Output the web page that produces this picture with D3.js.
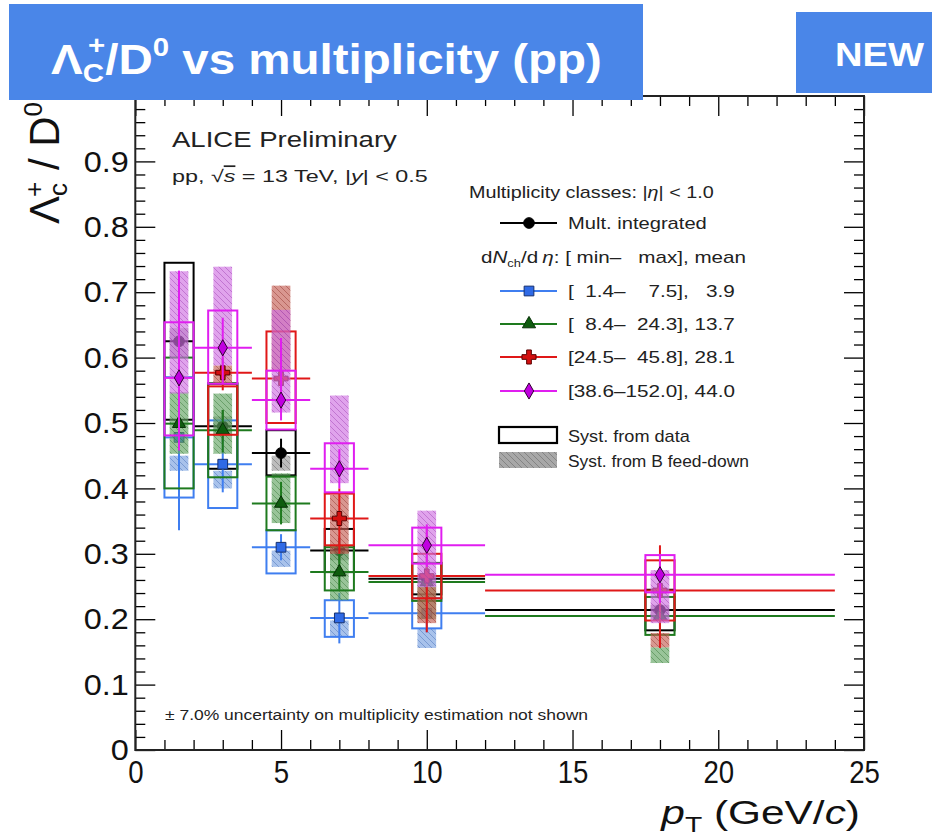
<!DOCTYPE html>
<html><head><meta charset="utf-8">
<script src="https://cdn.jsdelivr.net/npm/d3@7"></script>
<style>
body{margin:0;background:#fff}
svg{display:block}
text{font-family:"Liberation Sans",Arial,Helvetica,sans-serif}
</style>
</head><body>
<svg id="c" width="932" height="838"></svg>
<script>
// ---------------- DATA ----------------
const binLo = [1, 2, 4, 6, 8, 12];
const binHi = [2, 4, 6, 8, 12, 24];
const xMajorTicks = [0, 5, 10, 15, 20, 25];
const yMajorTicks = [0, 0.1, 0.2, 0.3, 0.4, 0.5, 0.6, 0.7, 0.8, 0.9];
const yTickLabels = ["0", "0.1", "0.2", "0.3", "0.4", "0.5", "0.6", "0.7", "0.8", "0.9"];
const xTickLabels = ["0", "5", "10", "15", "20", "25"];

const seriesLabels = ["Mult. integrated", "[  1.4\u2013    7.5],   3.9", "[  8.4\u2013  24.3], 13.7", "[24.5\u2013  45.8], 28.1", "[38.6\u2013152.0], 44.0"];

// Mult. integrated (black)
const blackVal    = [0.625, 0.495, 0.454, 0.305, 0.262, 0.214];
const blackStatLo = [0.590, 0.470, 0.432, 0.285, 0.245, 0.196];
const blackStatHi = [0.660, 0.520, 0.476, 0.325, 0.280, 0.232];
const blackBoxLo  = [0.505, 0.430, 0.420, 0.272, 0.238, 0.183];
const blackBoxHi  = [0.745, 0.560, 0.489, 0.338, 0.286, 0.245];
const blackFdLo   = [0.600, 0.480, 0.427, 0.290, 0.250, 0.200];
const blackFdHi   = [0.645, 0.510, 0.450, 0.312, 0.270, 0.222];

// [1.4-7.5] (blue)
const blueVal    = [0.478, 0.437, 0.310, 0.202, 0.209, null];
const blueStatLo = [0.336, 0.394, 0.290, 0.163, 0.180, null];
const blueStatHi = [0.620, 0.480, 0.330, 0.240, 0.240, null];
const blueBoxLo  = [0.386, 0.370, 0.270, 0.173, 0.186, null];
const blueBoxHi  = [0.570, 0.504, 0.336, 0.229, 0.232, null];
const blueFdLo   = [0.427, 0.400, 0.280, 0.173, 0.156, null];
const blueFdHi   = [0.450, 0.427, 0.305, 0.198, 0.185, null];

// [8.4-24.3] (green)
const greenVal    = [0.499, 0.489, 0.377, 0.272, 0.257, 0.205];
const greenStatLo = [0.460, 0.455, 0.345, 0.245, 0.230, 0.180];
const greenStatHi = [0.540, 0.520, 0.410, 0.300, 0.280, 0.230];
const greenBoxLo  = [0.400, 0.417, 0.336, 0.244, 0.228, 0.176];
const greenBoxHi  = [0.600, 0.561, 0.418, 0.310, 0.286, 0.234];
const greenFdLo   = [0.453, 0.453, 0.347, 0.229, 0.200, 0.133];
const greenFdHi   = [0.547, 0.545, 0.423, 0.305, 0.250, 0.157];

// [24.5-45.8] (red)
const redVal    = [null, 0.577, 0.568, 0.354, 0.266, 0.244];
const redStatLo = [null, 0.550, 0.520, 0.300, 0.180, 0.156];
const redStatHi = [null, 0.600, 0.620, 0.400, 0.340, 0.313];
const redBoxLo  = [null, 0.482, 0.500, 0.313, 0.232, 0.198];
const redBoxHi  = [null, 0.556, 0.640, 0.392, 0.300, 0.290];
const redFdLo   = [null, 0.560, 0.580, 0.300, 0.194, 0.157];
const redFdHi   = [null, 0.588, 0.710, 0.390, 0.249, 0.179];

// [38.6-152.0] (magenta)
const magVal    = [0.569, 0.615, 0.535, 0.430, 0.313, 0.268];
const magStatLo = [0.458, 0.560, 0.504, 0.400, 0.280, 0.225];
const magStatHi = [0.733, 0.661, 0.630, 0.460, 0.345, 0.300];
const magBoxLo  = [0.481, 0.560, 0.490, 0.394, 0.285, 0.241];
const magBoxHi  = [0.654, 0.672, 0.580, 0.469, 0.340, 0.298];
const magFdLo   = [0.545, 0.588, 0.516, 0.408, 0.249, 0.194];
const magFdHi   = [0.732, 0.739, 0.673, 0.542, 0.366, 0.275];

// ---------------- SETUP ----------------
const svg = d3.select("#c");
const L = 135.3, R = 864, T = 96, B = 750;
const x = d3.scaleLinear().domain([0, 25]).range([L, R]);
const y = d3.scaleLinear().domain([0, 1]).range([B, T]);

const series = [
  {name: seriesLabels[0], line: "#000000", mFill: "#000000", mStroke: "#000000", fd: "#9a9a9a", hatch: "#555", sym: d3.symbolCircle, size: 90,
   val: blackVal, sLo: blackStatLo, sHi: blackStatHi, bLo: blackBoxLo, bHi: blackBoxHi, fLo: blackFdLo, fHi: blackFdHi},
  {name: seriesLabels[1], line: "#3f7ef0", mFill: "#2f6ae6", mStroke: "#16306e", fd: "#7aa2e0", hatch: "#3b66b0", sym: d3.symbolSquare, size: 95,
   val: blueVal, sLo: blueStatLo, sHi: blueStatHi, bLo: blueBoxLo, bHi: blueBoxHi, fLo: blueFdLo, fHi: blueFdHi},
  {name: seriesLabels[2], line: "#1e7a1e", mFill: "#0f5c0f", mStroke: "#063006", fd: "#62a562", hatch: "#2e6e2e", sym: d3.symbolTriangle, size: 75,
   val: greenVal, sLo: greenStatLo, sHi: greenStatHi, bLo: greenBoxLo, bHi: greenBoxHi, fLo: greenFdLo, fHi: greenFdHi},
  {name: seriesLabels[3], line: "#e01818", mFill: "#d41010", mStroke: "#5a0000", fd: "#c46055", hatch: "#8a2c24", sym: d3.symbolCross, size: 110,
   val: redVal, sLo: redStatLo, sHi: redStatHi, bLo: redBoxLo, bHi: redBoxHi, fLo: redFdLo, fHi: redFdHi},
  {name: seriesLabels[4], line: "#e01ef0", mFill: "#c000e0", mStroke: "#300030", fd: "#cf72e2", hatch: "#9a3aae", sym: d3.symbolDiamond, size: 75,
   val: magVal, sLo: magStatLo, sHi: magStatHi, bLo: magBoxLo, bHi: magBoxHi, fLo: magFdLo, fHi: magFdHi}
];

// hatch patterns
const defs = svg.append("defs");
series.forEach((s, i) => {
  const p = defs.append("pattern").attr("id", "h" + i).attr("patternUnits", "userSpaceOnUse")
    .attr("width", 6).attr("height", 6);
  p.append("path").attr("d", "M0,0L6,6M-1,5L1,7M5,-1L7,1").attr("stroke", s.hatch)
    .attr("stroke-width", 0.8).attr("stroke-opacity", 0.55);
});

function fitWidth(sel, anchorX, w) {
  const bw = sel.node().getBBox().width;
  const k = w / bw;
  sel.attr("transform", `translate(${anchorX},0) scale(${k},1) translate(${-anchorX},0)`);
}

const plot = svg.append("g");

// ---------------- AXES ----------------
const xMinor = d3.range(0, 26, 1).filter(v => v % 5 !== 0);
const yMinor = d3.range(0, 50).map(i => i * 0.02).filter(v => Math.abs(v * 10 - Math.round(v * 10)) > 1e-6);

function styleAxis(g) {
  g.select(".domain").remove();
  g.selectAll(".tick line").attr("stroke", "#000").attr("stroke-width", 1.3);
}
const axG = svg.append("g");
axG.append("g").attr("transform", `translate(0,${B})`)
  .call(d3.axisBottom(x).tickValues(xMajorTicks).tickSize(-20).tickPadding(10).tickFormat((d, i) => xTickLabels[i]))
  .call(styleAxis)
  .call(g => g.selectAll("text").attr("font-size", 30).attr("fill", "#111").attr("font-family", "Liberation Sans, Arial, sans-serif")
    .attr("transform", "scale(0.92,1.05)"));
axG.append("g").attr("transform", `translate(0,${B})`)
  .call(d3.axisBottom(x).tickValues(xMinor).tickSize(-10).tickFormat(""))
  .call(styleAxis);
axG.append("g").attr("transform", `translate(0,${T})`)
  .call(d3.axisTop(x).tickValues(xMajorTicks).tickSize(-20).tickFormat(""))
  .call(styleAxis);
axG.append("g").attr("transform", `translate(0,${T})`)
  .call(d3.axisTop(x).tickValues(xMinor).tickSize(-10).tickFormat(""))
  .call(styleAxis);
axG.append("g").attr("transform", `translate(${L},0)`)
  .call(d3.axisLeft(y).tickValues(yMajorTicks).tickSize(-20).tickPadding(6).tickFormat((d, i) => yTickLabels[i]))
  .call(styleAxis)
  .call(g => g.selectAll("text").attr("font-size", 30).attr("fill", "#111").attr("font-family", "Liberation Sans, Arial, sans-serif")
    .attr("transform", "scale(1.08,1)"));
axG.append("g").attr("transform", `translate(${L},0)`)
  .call(d3.axisLeft(y).tickValues(yMinor).tickSize(-10).tickFormat(""))
  .call(styleAxis);
axG.append("g").attr("transform", `translate(${R},0)`)
  .call(d3.axisRight(y).tickValues(yMajorTicks).tickSize(-20).tickFormat(""))
  .call(styleAxis);
axG.append("g").attr("transform", `translate(${R},0)`)
  .call(d3.axisRight(y).tickValues(yMinor).tickSize(-10).tickFormat(""))
  .call(styleAxis);
svg.append("rect").attr("x", L).attr("y", T).attr("width", R - L).attr("height", B - T)
  .attr("fill", "none").attr("stroke", "#222").attr("stroke-width", 2);

// ---------------- DATA MARKS ----------------
const fdHalf = 0.32, boxHalf = 0.5;
series.forEach((s, si) => {
  const g = plot.append("g");
  binLo.forEach((lo, i) => {
    if (s.val[i] == null) return;
    const hi = binHi[i];
    const xc = (lo + hi) / 2;
    g.append("rect").attr("x", x(xc - fdHalf)).attr("width", x(xc + fdHalf) - x(xc - fdHalf))
      .attr("y", y(s.fHi[i])).attr("height", y(s.fLo[i]) - y(s.fHi[i]))
      .attr("fill", s.fd).attr("fill-opacity", 0.65);
    g.append("rect").attr("x", x(xc - fdHalf)).attr("width", x(xc + fdHalf) - x(xc - fdHalf))
      .attr("y", y(s.fHi[i])).attr("height", y(s.fLo[i]) - y(s.fHi[i]))
      .attr("fill", `url(#h${si})`);
    g.append("rect").attr("x", x(xc - boxHalf)).attr("width", x(xc + boxHalf) - x(xc - boxHalf))
      .attr("y", y(s.bHi[i])).attr("height", y(s.bLo[i]) - y(s.bHi[i]))
      .attr("fill", "none").attr("stroke", s.line).attr("stroke-width", 2);
    g.append("line").attr("x1", x(lo)).attr("x2", x(hi)).attr("y1", y(s.val[i])).attr("y2", y(s.val[i]))
      .attr("stroke", s.line).attr("stroke-width", 2);
    g.append("line").attr("x1", x(xc)).attr("x2", x(xc)).attr("y1", y(s.sLo[i])).attr("y2", y(s.sHi[i]))
      .attr("stroke", s.line).attr("stroke-width", 2);
    g.append("path").attr("d", d3.symbol().type(s.sym).size(s.size)())
      .attr("transform", `translate(${x(xc)},${y(s.val[i])})`)
      .attr("fill", s.mFill).attr("stroke", s.mStroke).attr("stroke-width", 1);
  });
});

// ---------------- TEXTS ----------------
const t1 = svg.append("text").attr("x", 172).attr("y", 147).attr("font-size", 22).attr("fill", "#222").text("ALICE Preliminary");
fitWidth(t1, 172, 225);
const t2 = svg.append("text").attr("x", 172).attr("y", 182).attr("font-size", 17).attr("fill", "#222").style("white-space", "pre");
t2.append("tspan").text("pp, \u221A");
t2.append("tspan").attr("font-style", "italic").style("text-decoration", "overline").text("s");
t2.append("tspan").text(" = 13 TeV, |");
t2.append("tspan").attr("font-style", "italic").text("y");
t2.append("tspan").text("| < 0.5");
fitWidth(t2, 172, 256);

// legend
const lg = svg.append("g");
const lh = lg.append("text").attr("x", 469).attr("y", 198).attr("font-size", 16).attr("fill", "#222");
lh.append("tspan").text("Multiplicity classes: |");
lh.append("tspan").attr("font-style", "italic").text("\u03B7");
lh.append("tspan").text("| < 1.0");
fitWidth(lh, 469, 245);

const rowY = [223, 291, 324, 357, 391];
const rowW = [139, 167, 167, 167, 167];
series.forEach((s, i) => {
  const ry = rowY[i];
  lg.append("line").attr("x1", 500).attr("x2", 557).attr("y1", ry).attr("y2", ry).attr("stroke", s.line).attr("stroke-width", 2);
  lg.append("path").attr("d", d3.symbol().type(s.sym).size(s.size)()).attr("transform", `translate(529,${ry})`)
    .attr("fill", s.mFill).attr("stroke", s.mStroke).attr("stroke-width", 1);
  const t = lg.append("text").attr("x", 568).attr("y", ry + 6).attr("font-size", 17).attr("fill", "#222")
    .style("white-space", "pre").text(s.name);
  fitWidth(t, 568, rowW[i]);
});
const dh = lg.append("text").attr("x", 481).attr("y", 263).attr("font-size", 16).attr("fill", "#222").style("white-space", "pre");
dh.append("tspan").text("d");
dh.append("tspan").attr("font-style", "italic").text("N");
dh.append("tspan").attr("font-size", 10).attr("dy", 4).text("ch");
dh.append("tspan").attr("dy", -4).text("/d\u2009");
dh.append("tspan").attr("font-style", "italic").text("\u03B7");
dh.append("tspan").text(": [ min\u2013   max], mean");
fitWidth(dh, 481, 265);

lg.append("rect").attr("x", 499).attr("y", 427).attr("width", 58).attr("height", 16).attr("fill", "none").attr("stroke", "#000").attr("stroke-width", 2.2);
const s1 = lg.append("text").attr("x", 568).attr("y", 442).attr("font-size", 16).attr("fill", "#222").text("Syst. from data");
fitWidth(s1, 568, 122);
lg.append("rect").attr("x", 499).attr("y", 452).attr("width", 58).attr("height", 16).attr("fill", "#a8a8a8");
lg.append("rect").attr("x", 499).attr("y", 452).attr("width", 58).attr("height", 16).attr("fill", "url(#h0)");
const s2 = lg.append("text").attr("x", 568).attr("y", 467).attr("font-size", 16).attr("fill", "#222").text("Syst. from B feed-down");
fitWidth(s2, 568, 181);

svg.append("text").attr("x", 165).attr("y", 720).attr("font-size", 14).attr("fill", "#222")
  .attr("textLength", 423).attr("lengthAdjust", "spacingAndGlyphs")
  .text("\u00B1 7.0% uncertainty on multiplicity estimation not shown");

// x title
const xt = svg.append("text").attr("x", 860).attr("y", 824).attr("font-size", 33).attr("fill", "#111").attr("text-anchor", "end");
xt.append("tspan").attr("font-style", "italic").text("p");
xt.append("tspan").attr("font-size", 22).attr("dy", 8).text("T");
xt.append("tspan").attr("dy", -8).text(" (GeV/");
xt.append("tspan").attr("font-style", "italic").text("c");
xt.append("tspan").text(")");
fitWidth(xt, 860, 200);

// y title
const yt = svg.append("text").attr("transform", "translate(59,224) rotate(-90)").attr("font-size", 42).attr("fill", "#111");
yt.append("tspan").text("\u039B");
yt.append("tspan").attr("font-size", 26).attr("dy", 8).text("c");
yt.append("tspan").attr("font-size", 26).attr("dy", -24).attr("dx", -14).text("+");
yt.append("tspan").attr("dy", 16).text(" / D");
yt.append("tspan").attr("font-size", 26).attr("dy", -17).text("0");

// ---------------- BANNERS ----------------
svg.append("rect").attr("x", 9).attr("y", 4).attr("width", 634).attr("height", 96).attr("fill", "#4a86e8");
const tt = svg.append("text").attr("x", 51).attr("y", 74).attr("font-size", 42).attr("font-weight", "bold").attr("fill", "#fff");
tt.append("tspan").text("\u039B");
tt.append("tspan").attr("font-size", 26).attr("dy", 8).text("C");
tt.append("tspan").attr("font-size", 26).attr("dy", -28).attr("dx", -14).text("+");
tt.append("tspan").attr("dy", 20).text("/D");
tt.append("tspan").attr("font-size", 26).attr("dy", -18).text("0");
tt.append("tspan").attr("dy", 18).text(" vs multiplicity (pp)");
fitWidth(tt, 51, 551);

svg.append("rect").attr("x", 796).attr("y", 12).attr("width", 136).attr("height", 81).attr("fill", "#4a86e8");
const nw = svg.append("text").attr("x", 835).attr("y", 66).attr("font-size", 34).attr("font-weight", "bold").attr("fill", "#fff").text("NEW");
fitWidth(nw, 835, 90);
</script>
</body></html>
